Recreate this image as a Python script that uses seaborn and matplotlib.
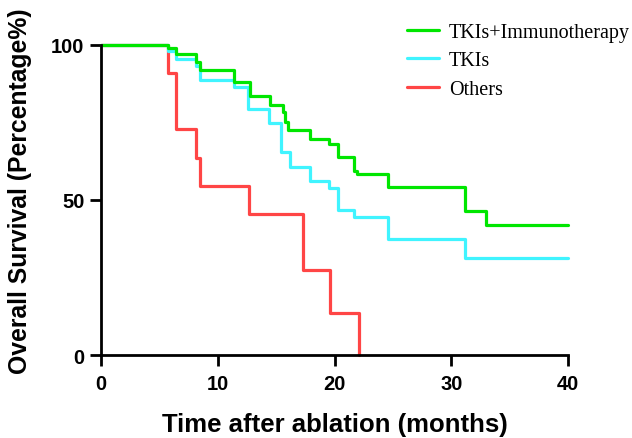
import numpy as np
import pandas as pd
import matplotlib
matplotlib.use("Agg")
import matplotlib.pyplot as plt
import seaborn as sns
from matplotlib.lines import Line2D

# ---- data ----
groups = ["TKIs+Immunotherapy", "TKIs", "Others"]

t_combo = [0, 5.71, 6.40, 8.14, 8.48, 11.42, 12.71, 14.43, 15.57, 15.71, 16.0,
           17.92, 19.5, 20.29, 21.63, 21.9, 24.58, 31.2, 33.0, 40]
s_combo = [100, 98.8, 97.0, 94.5, 91.7, 87.9, 83.5, 80.7, 78.3, 75.1, 72.4,
           69.5, 67.9, 63.8, 59.4, 58.2, 54.0, 46.5, 41.8, 41.8]

t_tki = [0, 5.71, 6.40, 8.14, 8.48, 11.42, 12.62, 14.34, 15.43, 16.14,
         17.85, 19.55, 20.29, 21.63, 24.58, 31.2, 40]
s_tki = [100, 97.8, 95.4, 93.2, 88.5, 86.3, 79.4, 74.6, 65.5, 60.7,
         56.2, 53.8, 46.8, 44.5, 37.5, 31.3, 31.3]

t_oth = [0, 5.71, 6.45, 8.14, 8.48, 12.66, 17.29, 19.63, 22.06]
s_oth = [100, 90.9, 72.7, 63.6, 54.5, 45.5, 27.3, 13.6, 0]

colors = ["#00E600", "#40F4FF", "#FF4545"]

rows = []
for g, t, s in zip(groups, [t_combo, t_tki, t_oth], [s_combo, s_tki, s_oth]):
    for ti, si in zip(t, s):
        rows.append({"group": g, "time": ti, "surv": si})
df = pd.DataFrame(rows)

sns.set_theme(style="ticks")
plt.rcParams["font.family"] = ["Liberation Sans", "DejaVu Sans"]
plt.rcParams["text.color"] = "black"
plt.rcParams["axes.labelcolor"] = "black"
plt.rcParams["xtick.color"] = "black"
plt.rcParams["ytick.color"] = "black"

fig = plt.figure(figsize=(6.32, 4.39), dpi=100)
ax = fig.add_axes([0.160, 0.189, 0.739, 0.707])

# draw Others first, then TKIs, then combo on top
for g, c in zip(groups[::-1], colors[::-1]):
    sub = df[df["group"] == g]
    sns.lineplot(data=sub, x="time", y="surv", ax=ax, color=c, lw=2.3,
                 estimator=None, sort=False, drawstyle="steps-post",
                 legend=False, clip_on=False)

ax.set_xlim(0, 40)
ax.set_ylim(0, 100)
ax.set_xticks([0, 10, 20, 30, 40])
ax.set_yticks([0, 50, 100])
for sp in ["top", "right"]:
    ax.spines[sp].set_visible(False)
for sp in ["left", "bottom"]:
    ax.spines[sp].set_linewidth(2.0)
    ax.spines[sp].set_color("black")
ax.tick_params(axis="both", length=8, width=2.0, color="black",
               labelsize=14.5, labelcolor="black")
ax.tick_params(axis="x", pad=6)
ax.tick_params(axis="y", pad=4)
for lab in ax.get_xticklabels() + ax.get_yticklabels():
    lab.set_fontweight("bold")

ax.set_xlabel("Time after ablation (months)", fontsize=18.5, fontweight="bold")
ax.set_ylabel("Overall Survival (Percentage%)", fontsize=17.8, fontweight="bold")
ax.xaxis.set_label_coords(0.5, -0.183)
ax.yaxis.set_label_coords(-0.148, 0.53)

handles = [Line2D([0], [0], color=c, lw=2.3) for c in colors]
leg = ax.legend(handles, groups, loc="upper left", bbox_to_anchor=(0.638, 1.097),
                frameon=False, handlelength=1.6, handletextpad=0.48,
                labelspacing=0.48, borderaxespad=0,
                prop={"family": "Liberation Serif", "size": 14.5})
leg.set_clip_on(False)

fig.savefig("out.png", dpi=100)
